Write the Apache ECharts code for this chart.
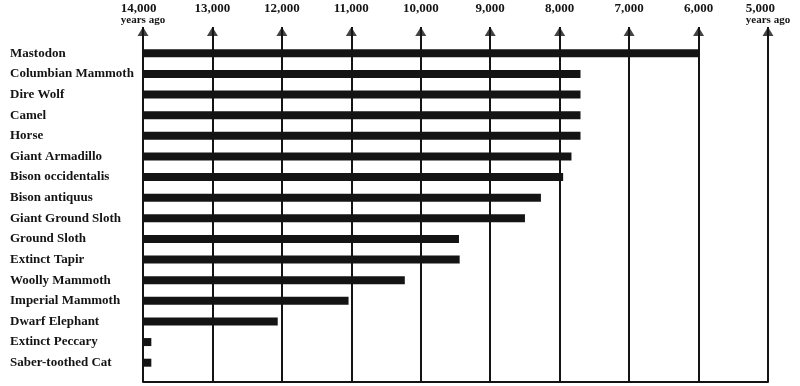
<!DOCTYPE html>
<html>
<head>
<meta charset="utf-8">
<script src="https://cdn.jsdelivr.net/npm/echarts@6/dist/echarts.min.js"></script>
<style>
html,body{margin:0;padding:0;background:#fff;}
#chart{width:800px;height:386px;}
</style>
</head>
<body>
<div id="chart"></div>
<script>
const categories = ['Mastodon', 'Columbian Mammoth', 'Dire Wolf', 'Camel', 'Horse', 'Giant Armadillo',
  'Bison occidentalis', 'Bison antiquus', 'Giant Ground Sloth', 'Ground Sloth', 'Extinct Tapir',
  'Woolly Mammoth', 'Imperial Mammoth', 'Dwarf Elephant', 'Extinct Peccary', 'Saber-toothed Cat'];
// last appearance, years ago
const yearsAgo = [6000, 7700, 7700, 7700, 7700, 7830, 7950, 8270, 8500, 9450, 9440, 10230, 11040, 12060, 13880, 13880];
const tickValues = [14000, 13000, 12000, 11000, 10000, 9000, 8000, 7000, 6000, 5000];
const tickLabels = ['14,000', '13,000', '12,000', '11,000', '10,000', '9,000', '8,000', '7,000', '6,000', '5,000'];
const tickSubLabels = ['years ago', '', '', '', '', '', '', '', '', 'years ago'];

const START = 14000;
const INK = '#141414';
const FONT = '"Liberation Serif", "DejaVu Serif", serif';

const chart = echarts.init(document.getElementById('chart'), null, {renderer: 'canvas'});
chart.setOption({
  backgroundColor: '#ffffff',
  animation: false,
  grid: [
    {left: 143, right: 32, top: 43, bottom: 13},
    {left: 143, right: 32, top: 27, bottom: 4}
  ],
  xAxis: [
    {gridIndex: 0, type: 'value', min: 0, max: START - tickValues[tickValues.length - 1], show: false},
    {gridIndex: 1, type: 'value', min: 0, max: START - tickValues[tickValues.length - 1], interval: 1000,
      position: 'top',
      axisLine: {show: false}, axisTick: {show: false},
      splitLine: {show: true, lineStyle: {color: INK, width: 2}},
      axisLabel: {
        margin: 24, verticalAlign: 'top',
        formatter: function (v) {
          const i = Math.round(v / 1000);
          const s = '{a|' + tickLabels[i] + '}';
          return tickSubLabels[i] ? s + '\n{b|' + tickSubLabels[i] + '}' : s;
        },
        rich: {
          a: {fontFamily: FONT, fontWeight: 'bold', fontSize: 13, color: INK, align: 'left', lineHeight: 12},
          b: {fontFamily: FONT, fontWeight: 'bold', fontSize: 11, color: INK, lineHeight: 10}
        }
      }
    },
    {gridIndex: 1, type: 'value', min: 0, max: START - tickValues[tickValues.length - 1], position: 'bottom',
      axisLine: {show: true, lineStyle: {color: INK, width: 2}}, axisTick: {show: false},
      axisLabel: {show: false}, splitLine: {show: false}}
  ],
  yAxis: [
    {gridIndex: 0, type: 'category', data: categories, inverse: true,
      axisLine: {show: false}, axisTick: {show: false}, splitLine: {show: false},
      axisLabel: {align: 'left', margin: 133, fontFamily: FONT, fontWeight: 'bold', fontSize: 13, color: INK}},
    {gridIndex: 1, type: 'value', min: 0, max: 1, show: false}
  ],
  series: [
    {type: 'bar', xAxisIndex: 0, yAxisIndex: 0, barWidth: 8,
      itemStyle: {color: INK},
      data: yearsAgo.map(v => START - v)},
    {type: 'scatter', xAxisIndex: 1, yAxisIndex: 1, symbol: 'triangle', symbolSize: [11, 9],
      symbolOffset: [0, '50%'], itemStyle: {color: INK}, silent: true,
      data: tickValues.map(v => [START - v, 1])}
  ]
});
</script>
</body>
</html>
